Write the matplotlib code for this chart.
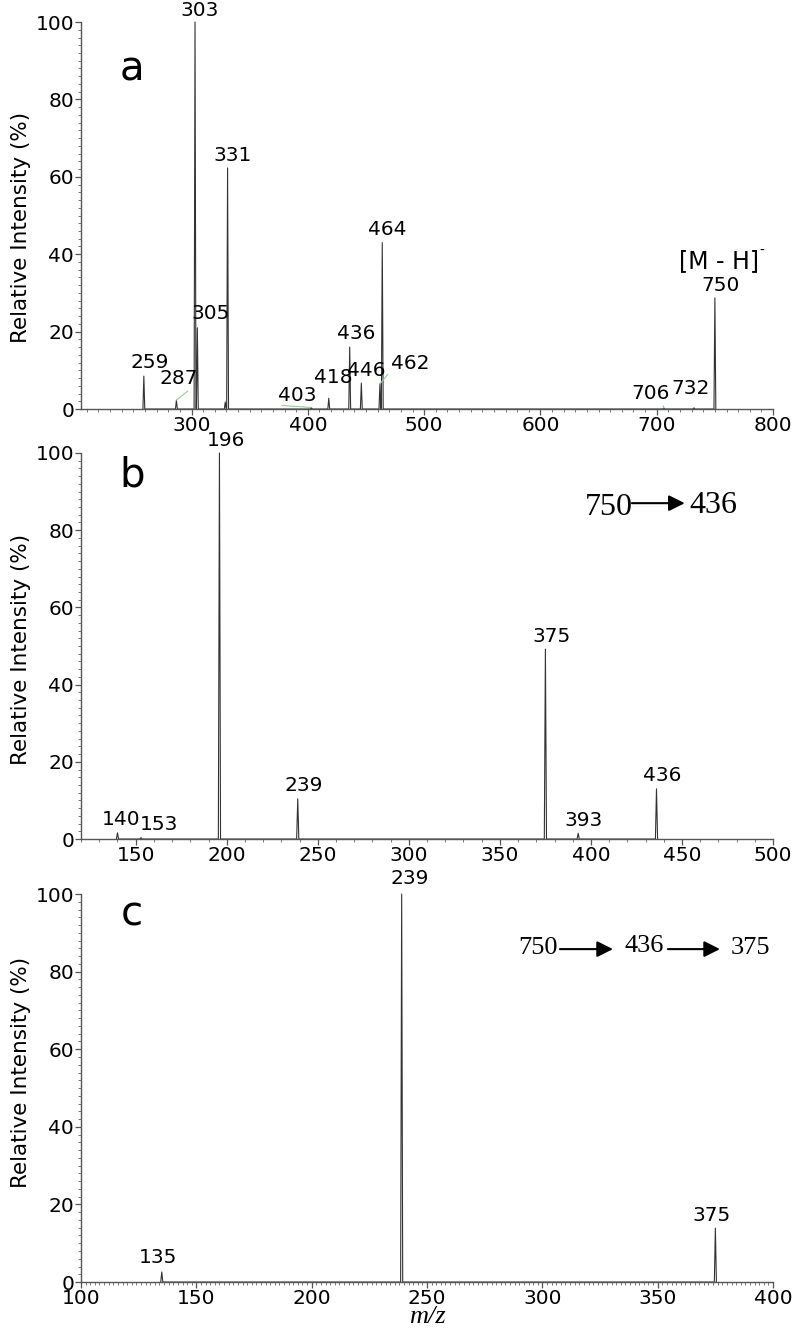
import numpy as np
import matplotlib.pyplot as plt
from matplotlib.ticker import MultipleLocator

plt.rcParams['font.family'] = ['DejaVu Sans']

# Panel a: full scan spectrum (m/z, relative intensity %)
mz_a = [259, 287, 303, 305, 329, 331, 403, 418, 436, 446, 462, 464, 706, 732, 750]
int_a = [8.5, 2.3, 100, 21, 1.8, 62.3, 0.4, 2.8, 16, 6.7, 6.5, 43, 0.3, 0.3, 28.7]
lab_a = ['259', '287', '303', '305', '', '331', '403', '418', '436', '446', '462', '464', '706', '732', '750']

# Panel b: MS2 of 750 -> 436
mz_b = [140, 153, 196, 239, 375, 393, 436]
int_b = [1.6, 0.4, 100, 10.4, 49.2, 1.5, 13]
lab_b = ['140', '153', '196', '239', '375', '393', '436']

# Panel c: MS3 of 750 -> 436 -> 375
mz_c = [135, 239, 375]
int_c = [2.6, 100, 13.9]
lab_c = ['135', '239', '375']

# label offsets in pixels (dx, dy) and leader line anchors
off_a = {'259': (6, 4), '287': (2, 12), '303': (5, 2), '305': (13, 5), '331': (5, 3),
         '403': (-14, 2), '418': (5, 11), '436': (6, 4), '446': (5, 3), '462': (30, 11),
         '464': (5, 4), '706': (-13, 5), '732': (-3, 10), '750': (6, 3)}
off_b = {'140': (4, 4), '153': (18, 3), '196': (7, 3), '239': (6, 4), '375': (6, 3),
         '393': (5, 3), '436': (6, 4)}
off_c = {'135': (-4, 5), '239': (8, 6), '375': (-4, 3)}
leaders = {'287': (0.9, 0.1), '403': (0.1, 0), '462': (0, 0.1), '153': (0, 0.1), '706': (0.8, 0)}


def profile(mz, inten, hw):
    mz = np.asarray(mz, float)
    inten = np.asarray(inten, float)
    x = np.column_stack([mz - hw, mz, mz + hw]).ravel()
    y = np.column_stack([np.zeros_like(mz), inten, np.zeros_like(mz)]).ravel()
    return x, y


def style_axes(ax, xlim, xmaj, xmin, ylab_y):
    ax.set_xlim(*xlim)
    ax.set_ylim(0, 100)
    for s in ['top', 'right']:
        ax.spines[s].set_visible(False)
    for s in ['left', 'bottom']:
        ax.spines[s].set_color('#555555')
        ax.spines[s].set_linewidth(1.0)
    ax.xaxis.set_major_locator(MultipleLocator(xmaj))
    ax.xaxis.set_minor_locator(MultipleLocator(xmin))
    ax.yaxis.set_major_locator(MultipleLocator(20))
    ax.yaxis.set_minor_locator(MultipleLocator(2))
    ax.tick_params(which='major', length=4, width=0.9, color='#555555',
                   labelsize=14.5, pad=1)
    ax.tick_params(which='minor', length=2.5, width=0.7, color='#777777')
    ax.set_ylabel('Relative Intensity (%)', fontsize=15.5)
    ax.yaxis.set_label_coords(-0.072, ylab_y)


def draw(ax, mz, inten, labels, offs, hw):
    x, y = profile(mz, inten, hw)
    ax.plot(x, y, color='#333333', lw=0.8, clip_on=False)
    for m, h, t in zip(mz, inten, labels):
        if not t:
            continue
        dx, dy = offs[t]
        kw = {}
        if t in leaders:
            kw['arrowprops'] = dict(arrowstyle='-', color='#8fd18f', lw=0.8,
                                    shrinkA=0, shrinkB=0, relpos=leaders[t])
        ax.annotate(t, xy=(m, h), xytext=(dx, dy), textcoords='offset pixels',
                    ha='center', va='bottom', fontsize=14.5, annotation_clip=False, **kw)


fig = plt.figure(figsize=(8, 13.28), dpi=100)
ax_a = fig.add_axes([0.1013, 0.692, 0.865, 0.2914])
ax_b = fig.add_axes([0.1013, 0.3682, 0.865, 0.2907])
ax_c = fig.add_axes([0.1013, 0.0346, 0.865, 0.2922])

style_axes(ax_a, (205, 800), 100, 10, 0.47)
style_axes(ax_b, (120, 500), 50, 10, 0.49)
style_axes(ax_c, (100, 400), 50, 2, 0.54)

draw(ax_a, mz_a, int_a, lab_a, off_a, 0.8)
draw(ax_b, mz_b, int_b, lab_b, off_b, 0.6)
draw(ax_c, mz_c, int_c, lab_c, off_c, 0.45)

# precursor ion label
ax_a.annotate('[M - H]', xy=(750, 28.7), xytext=(4, 25), textcoords='offset pixels',
              ha='center', va='bottom', fontsize=17, annotation_clip=False)
ax_a.annotate('-', xy=(750, 28.7), xytext=(47, 40), textcoords='offset pixels',
              ha='center', va='bottom', fontsize=10, annotation_clip=False)

# panel letters
for ax, letter, yy in [(ax_a, 'a', 0.85), (ax_b, 'b', 0.912), (ax_c, 'c', 0.92)]:
    ax.text(0.074, yy, letter, transform=ax.transAxes, fontsize=29,
            ha='center', va='baseline')

# fragmentation pathways
serif = 'Liberation Serif'
arrow = dict(arrowstyle='-|>', color='black', lw=1.5, mutation_scale=24,
             shrinkA=0, shrinkB=0)
ax_b.text(410, 86.0, '750', family=serif, fontsize=23, ha='center', va='center')
ax_b.annotate('', xy=(451.5, 87.0), xytext=(422.5, 87.0), arrowprops=arrow)
ax_b.text(467.4, 86.5, '436', family=serif, fontsize=23, ha='center', va='center')

ax_c.text(298.1, 86.1, '750', family=serif, fontsize=19, ha='center', va='center')
ax_c.annotate('', xy=(330.6, 85.8), xytext=(307.6, 85.8), arrowprops=arrow)
ax_c.text(344.3, 86.6, '436', family=serif, fontsize=19, ha='center', va='center')
ax_c.annotate('', xy=(377.0, 85.8), xytext=(354.4, 85.8), arrowprops=arrow)
ax_c.text(390.4, 86.1, '375', family=serif, fontsize=19, ha='center', va='center')

ax_c.set_xlabel('m/z', family=serif, style='italic', fontsize=19)
ax_c.xaxis.set_label_coords(0.5, -0.063)

fig.savefig('out.png', dpi=100)
